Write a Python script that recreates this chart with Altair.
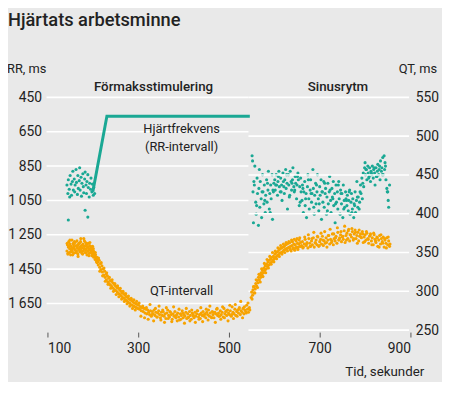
import altair as alt
import pandas as pd

FONT = "Roboto"
INK = "#222222"
TEAL = "#1aa894"
ORANGE = "#f7a300"
BG = "#e9e9e9"

X_TICKS = [100, 300, 500, 700, 900]
RR_TICKS = [450, 650, 850, 1050, 1250, 1450, 1650]
QT_TICKS = [250, 300, 350, 400, 450, 500, 550]

# Heart rate (RR interval), atrial pacing phase: scattered beats before pacing
teal_left_t = [143, 145, 146, 148, 149, 150, 152, 153, 155, 156, 157, 159, 160, 161, 163, 164,
               166, 167, 168, 170, 171, 172, 174, 175, 176, 178, 179, 180, 182, 183, 185, 186,
               187, 189, 190, 192, 193, 195, 196, 198, 199, 201, 202, 204, 146, 183, 189]
teal_left_rr = [960, 1010, 930, 985, 1030, 905, 955, 1020, 940, 880, 990, 925, 1000, 960, 870, 945,
                1015, 905, 980, 935, 860, 990, 915, 1025, 950, 895, 970, 1005, 925, 885, 960, 1010,
                940, 900, 975, 1030, 950, 985, 920, 1000, 955, 1020, 975, 1010, 1164, 1107, 1147]

# Paced RR interval (line)
teal_line_t = [200, 231, 546]
teal_line_rr = [1000, 560, 560]

# Sinus rhythm RR interval
teal_right_t = [551, 552, 553, 554, 556, 557, 559, 560, 562, 563, 565, 566, 568, 569, 571, 572,
                574, 575, 577, 578, 580, 581, 583, 584, 586, 587, 589, 590, 592, 593, 595, 596,
                598, 599,
                601, 602, 604, 605, 607, 608, 610, 611, 613, 614, 616, 617, 619, 620, 622, 623,
                625, 626, 628, 629, 631, 632, 634, 635, 637, 638, 640, 641, 643, 644, 646, 647,
                649, 650, 652, 653, 655, 656, 658, 659,
                661, 662, 664, 665, 667, 668, 670, 671, 673, 674, 676, 677, 679, 680, 682, 683,
                685, 686, 688, 689, 691, 692, 694, 695, 697, 698, 700, 701, 703, 704, 706, 707,
                709, 710, 712, 713, 715, 716, 718, 719, 721, 722, 724, 725, 727, 728, 730, 731,
                733, 734, 736, 737, 739, 740, 742, 743, 745, 746, 748, 749, 751, 752, 754, 755,
                757, 758,
                760, 761, 763, 764, 766, 767, 769, 770, 772, 773, 775, 776, 778, 779, 781, 782,
                784, 785, 787, 788, 790, 791, 793, 794, 796, 797, 799,
                800, 801, 803, 804, 806, 807, 809, 810, 812, 813, 815, 816, 818, 819, 821, 822,
                824, 825, 827, 828, 830, 831, 833, 834, 836, 837, 839, 840, 842, 843, 845, 846,
                848, 849, 851, 852, 854]
teal_right_rr = [790, 820, 1000, 1180, 960, 850, 1060, 1130, 920, 1010, 1195, 980, 1090, 940, 1040, 1150,
                 900, 1000, 1070, 960, 1120, 1020, 930, 1060, 990, 880, 1100, 1010, 960, 1040, 900, 1160,
                 1000, 950,
                 930, 990, 900, 960, 1020, 940, 880, 970, 1000, 920, 960, 1050, 890, 940, 1010, 930,
                 870, 980, 950, 1100, 900, 960, 1020, 880, 940, 990, 930, 860, 970, 1000, 910, 950,
                 1040, 960, 890, 930, 1080, 970, 920, 1000,
                 1050, 960, 1120, 1000, 940, 1080, 1010, 1150, 970, 900, 1040, 1100, 990, 930, 1060, 1010,
                 870, 980, 1130, 1020, 950, 1070, 1000, 900, 1040, 1110, 970, 1020, 930, 1160, 1000, 1060,
                 940, 1090, 1010, 980, 1130, 1030, 950, 1070, 1000, 910, 1050, 1120, 980, 1030, 940, 1080,
                 1010, 1180, 960, 1060, 1000, 1100, 940, 1040, 1130, 990, 1070, 1010, 1150, 960, 1050, 1090,
                 1000, 1040,
                 1080, 1020, 1110, 1050, 990, 1130, 1060, 1010, 1100, 1040, 1150, 1070, 1000, 1120, 1050, 940,
                 1090, 1030, 1100, 1060, 960, 1010, 920, 1040, 890, 970, 860,
                 830, 900, 870, 930, 850, 890, 910, 860, 940, 880, 900, 850, 920, 870, 890, 960,
                 860, 910, 880, 840, 900, 870, 930, 820, 880, 860, 800, 900, 790, 870, 850, 930,
                 980, 1000, 1050, 1090, 960]
teal_right_b_t = [555, 561, 567, 573, 579, 585, 591, 597, 603, 609, 615, 621, 627, 633, 639, 645,
                  651, 657, 663, 669, 675, 681, 687, 693, 699, 705, 711, 717, 723, 729, 735, 741,
                  747, 753, 759, 765, 771, 777, 783, 789, 795, 802, 808, 814, 820, 826, 832, 838,
                  844, 850]
teal_right_b_rr = [940, 1080, 870, 1000, 1050, 950, 1120, 990, 960, 910, 1000, 970, 900, 1030, 950, 990,
                   910, 1060, 980, 1040, 930, 1010, 1090, 960, 1070, 1000, 950, 1110, 990, 1040, 1070, 960,
                   1010, 1100, 1050, 1000, 1120, 1080, 1030, 1000, 950, 870, 920, 890, 860, 910, 850, 900,
                   830, 1000]

# QT interval, pacing phase
orange_left_t = [143, 144, 145, 146, 147, 148, 149, 150, 151, 152, 153, 154, 155, 156, 157, 158,
                 159, 160, 161, 162, 163, 164, 165, 166, 167, 168, 169, 170, 171, 172, 173, 174,
                 175, 176, 177, 178, 179, 180, 181, 182, 183, 184, 185, 186, 187, 188, 189, 190,
                 191, 192, 193, 194, 195, 196, 197, 198, 199, 200, 201, 202, 203, 204, 205, 206,
                 207, 208, 209, 210,
                 211, 212, 214, 215, 217, 218, 220, 221, 223, 224, 226, 227, 229, 230, 232, 233,
                 235, 236, 238, 239, 241, 242, 244, 245, 247, 248, 250, 251, 253, 254, 256, 257,
                 259, 260, 262, 263, 265, 266, 268, 269, 271, 272, 274, 275, 277, 278, 280, 281,
                 283, 284, 286, 287, 289, 290, 292, 293, 295, 296, 298, 299,
                 301, 303, 305, 307, 309, 311, 313, 315, 317, 319, 321, 323, 325, 327, 329, 331,
                 333, 335, 337, 339, 341, 343, 345, 347, 349, 351, 353, 355, 357, 359, 361, 363,
                 365, 367, 369, 371, 373, 375, 377, 379, 381, 383, 385, 387, 389, 391, 393, 395,
                 397, 399, 401, 403, 405, 407, 409, 411, 413, 415, 417, 419, 421, 423, 425, 427,
                 429, 431, 433, 435, 437, 439, 441, 443, 445, 447, 449, 451, 453, 455, 457, 459,
                 461, 463, 465, 467, 469, 471, 473, 475, 477, 479, 481, 483, 485, 487, 489, 491,
                 493, 495, 497, 499, 501, 503, 505, 507, 509, 511, 513, 515, 517, 519, 521, 523,
                 525, 527, 529, 531, 533, 535, 537, 539, 541, 543, 545]
orange_left_qt = [352, 360, 348, 357, 364, 350, 355, 361, 347, 358, 353, 366, 351, 356, 362, 349,
                  357, 354, 363, 350, 359, 352, 365, 356, 348, 360, 354, 362, 351, 357, 364, 353,
                  359, 349, 356, 361, 352, 368, 355, 358, 350, 363, 354, 360, 347, 357, 352, 362,
                  355, 349, 359, 353, 358, 351, 356, 346, 352, 348, 355, 344, 350, 346, 341, 347,
                  343, 338, 344, 340,
                  338, 334, 340, 331, 336, 328, 333, 325, 329, 321, 326, 318, 322, 315, 320, 312,
                  317, 310, 314, 308, 313, 306, 311, 304, 309, 302, 307, 301, 305, 299, 304, 297,
                  302, 296, 300, 294, 298, 292, 297, 291, 295, 289, 293, 288, 292, 286, 290, 285,
                  289, 283, 288, 282, 286, 281, 285, 280, 284, 279, 283, 278,
                  282, 277, 280, 275, 279, 274, 278, 272, 277, 271, 276, 273, 270, 275, 268, 274,
                  271, 276, 269, 273, 267, 272, 275, 270, 266, 273, 269, 274, 268, 271, 265, 272,
                  276, 269, 267, 273, 270, 264, 271, 268, 274, 266, 270, 272, 267, 263, 271, 269,
                  275, 266, 270, 268, 273, 265, 271, 267, 274, 269, 264, 272, 270, 266, 273, 268,
                  271, 275, 267, 270, 265, 272, 269, 274, 268, 271, 266, 273, 270, 276, 268, 272,
                  267, 274, 270, 266, 273, 271, 277, 269, 272, 268, 275, 270, 273, 267, 278, 271,
                  274, 269, 276, 272, 270, 275, 268, 280, 273, 271, 277, 269, 274, 276, 272, 279,
                  270, 275, 273, 278, 271, 276, 274, 282, 277, 273, 279]
orange_left_b_t = [143.5, 145.5, 147.5, 149.5, 151.5, 153.5, 155.5, 157.5, 159.5, 161.5, 163.5,
                   165.5, 167.5, 169.5, 171.5, 173.5, 175.5, 177.5, 179.5, 181.5, 183.5, 185.5,
                   187.5, 189.5, 191.5, 193.5, 195.5, 197.5, 199.5, 201.5, 203.5, 205.5, 207.5,
                   209.5,
                   212.5, 215.5, 218.5, 221.5, 224.5, 227.5, 230.5, 233.5, 236.5, 239.5, 242.5,
                   245.5, 248.5, 251.5, 254.5, 257.5, 260.5, 263.5, 266.5, 269.5, 272.5, 275.5,
                   278.5, 281.5, 284.5, 287.5, 290.5, 293.5, 296.5,
                   302, 306, 310, 314, 318, 322, 326, 330, 334, 338, 342, 346, 350, 354, 358, 362,
                   366, 370, 374, 378, 382, 386, 390, 394, 398, 402, 406, 410, 414, 418, 422, 426,
                   430, 434, 438, 442, 446, 450, 454, 458, 462, 466, 470, 474, 478, 482, 486, 490,
                   494, 498, 502, 506, 510, 514, 518, 522, 526, 530, 534, 538, 542, 546]
orange_left_b_qt = [362, 349, 358, 366, 351, 355, 347, 360, 364, 353, 350, 358, 345, 362, 356, 368,
                    352, 348, 359, 365, 354, 350, 361, 357, 346, 363, 355, 349, 358, 352, 345, 350,
                    341, 337,
                    343, 326, 337, 320, 330, 313, 324, 309, 318, 304, 315, 300, 310, 296, 307, 293,
                    304, 290, 300, 287, 297, 284, 294, 281, 291, 278, 289, 276, 287,
                    285, 268, 281, 266, 279, 264, 283, 270, 262, 278, 267, 281, 263, 276, 260, 279,
                    265, 274, 261, 280, 268, 262, 277, 264, 272, 259, 278, 266, 262, 276, 268, 260,
                    275, 264, 279, 261, 270, 277, 263, 281, 266, 273, 260, 278, 268, 264, 280, 266,
                    275, 262, 282, 270, 265, 283, 268, 277, 287, 266, 280, 272, 285, 276]

# QT interval, sinus rhythm phase
orange_right_t = [549, 550, 552, 553, 555, 556, 558, 559, 561, 562, 564, 565, 567, 568, 570, 571,
                  573, 574, 576, 577, 579, 580, 582, 583, 585, 586, 588, 589, 591, 592, 594, 595,
                  597, 598, 600, 601, 603, 604, 606, 607, 609, 610, 612, 613, 615, 616, 618, 619,
                  621, 622, 624, 625, 627, 628, 630, 631, 633, 634, 636, 637, 639, 640, 642, 643,
                  645, 646, 648, 649, 651, 652, 654, 655, 657, 658, 660,
                  662, 664, 666, 668, 670, 672, 674, 676, 678, 680, 682, 684, 686, 688, 690, 692,
                  694, 696, 698, 700, 702, 704, 706, 708, 710, 712, 714, 716, 718, 720, 722, 724,
                  726, 728, 730, 732, 734, 736, 738, 740, 742, 744, 746, 748, 750, 752, 754, 756,
                  758, 760, 762, 764, 766, 768, 770, 772, 774, 776, 778, 780, 782, 784, 786, 788,
                  790, 792, 794, 796, 798, 800, 802, 804, 806, 808, 810, 812, 814, 816, 818, 820,
                  822, 824, 826, 828, 830, 832, 834, 836, 838, 840, 842, 844, 846, 848, 850, 852, 854]
orange_right_qt = [292, 299, 295, 302, 298, 306, 303, 310, 307, 314, 311, 318, 315, 321, 318, 324,
                   321, 327, 324, 330, 327, 333, 329, 335, 332, 338, 334, 340, 336, 342, 338, 344,
                   340, 345, 342, 348, 344, 350, 346, 351, 347, 353, 349, 355, 350, 356, 351, 357,
                   353, 358, 354, 360, 355, 361, 356, 362, 357, 363, 358, 352, 359, 364, 356, 361,
                   353, 360, 365, 357, 362, 354, 361, 366, 358, 363, 359,
                   364, 357, 361, 367, 359, 363, 356, 368, 362, 358, 365, 360, 369, 357, 363, 366,
                   360, 370, 358, 364, 367, 361, 371, 359, 365, 362, 369, 357, 366, 372, 361, 367,
                   363, 374, 360, 368, 365, 371, 362, 376, 366, 369, 373, 364, 370, 367, 378, 363,
                   372, 375, 368, 380, 365, 373, 370, 377, 366, 374, 379, 368, 372, 376, 365, 371,
                   374, 369, 377, 363, 370, 373, 366, 375, 368, 362, 371, 374, 365, 369, 360, 373,
                   367, 363, 370, 358, 366, 372, 361, 368, 364, 370, 357, 366, 362, 369, 360, 365, 358]
orange_right_b_t = [551, 554, 557, 560, 563, 566, 569, 572, 575, 578, 581, 584, 587, 590, 593, 596,
                    599, 602, 605, 608, 611, 614, 617, 620, 623, 626, 629, 632, 635, 638, 641, 644,
                    647, 650, 653, 656, 659,
                    663, 667, 671, 675, 679, 683, 687, 691, 695, 699, 703, 707, 711, 715, 719, 723,
                    727, 731, 735, 739, 743, 747, 751, 755, 759, 763, 767, 771, 775, 779, 783, 787,
                    791, 795, 799, 803, 807, 811, 815, 819, 823, 827, 831, 835, 839, 843, 847, 851, 855]
orange_right_b_qt = [290, 306, 298, 315, 305, 322, 312, 329, 319, 336, 324, 341, 330, 345, 335, 350,
                     338, 352, 342, 356, 345, 359, 348, 361, 350, 363, 352, 364, 354, 366, 355, 367,
                     356, 368, 357, 369, 358,
                     356, 370, 361, 373, 358, 368, 376, 362, 371, 359, 375, 366, 377, 363, 372, 380,
                     365, 374, 369, 382, 367, 377, 371, 384, 366, 378, 373, 381, 368, 376, 362, 379,
                     370, 374, 364, 377, 367, 372, 360, 375, 365, 369, 357, 373, 362, 368, 356, 370, 361]


def rows(ts, vs):
    return [{"t": t, "v": v} for t, v in zip(ts, vs)]


teal_pts = pd.DataFrame(rows(teal_left_t, teal_left_rr) + rows(teal_right_t, teal_right_rr)
                        + rows(teal_right_b_t, teal_right_b_rr))
teal_line = pd.DataFrame({"t": teal_line_t, "v": teal_line_rr})
orange_pts = pd.DataFrame(rows(orange_left_t, orange_left_qt) + rows(orange_left_b_t, orange_left_b_qt)
                          + rows(orange_right_t, orange_right_qt) + rows(orange_right_b_t, orange_right_b_qt))
rr_grid = pd.DataFrame({"v": RR_TICKS})
qt_grid = pd.DataFrame({"v": QT_TICKS})

x_scale = alt.Scale(domain=[100, 900], nice=False, zero=False)
x_axis = alt.Axis(values=X_TICKS, title=None, grid=False, domain=False, ticks=True,
                  tickSize=5, tickWidth=1, tickColor="#555555", offset=2, labelPadding=5,
                  labelFont=FONT, labelFontSize=14, labelColor=INK)
rr_scale = alt.Scale(domain=[450, 1805], reverse=True, nice=False, zero=False)
rr_axis = alt.Axis(orient="left", values=RR_TICKS, title=None, grid=False, domain=False,
                   ticks=False, tickSize=0, labelPadding=6, labelFont=FONT, labelFontSize=14,
                   labelColor=INK, labelBaseline="middle",
                   labelExpr="replace(format(datum.value, ','), ',', '\u2009')")
qt_scale = alt.Scale(domain=[250, 550], nice=False, zero=False)
qt_axis = alt.Axis(orient="right", values=QT_TICKS, title=None, grid=False, domain=False,
                   ticks=False, tickSize=0, labelPadding=5, labelFont=FONT, labelFontSize=14,
                   labelColor=INK, labelBaseline="middle")

X = alt.X("t:Q", scale=x_scale, axis=x_axis)

grid_left = alt.Chart(rr_grid).mark_rule(color="white", strokeWidth=1.6).encode(
    x=alt.datum(98, scale=x_scale, axis=x_axis), x2=alt.datum(543),
    y=alt.Y("v:Q", scale=rr_scale, axis=rr_axis))
teal_points = alt.Chart(teal_pts).mark_circle(color=TEAL, size=10, opacity=1).encode(
    x=X, y=alt.Y("v:Q", scale=rr_scale, axis=rr_axis))
teal_path = alt.Chart(teal_line).mark_line(color=TEAL, strokeWidth=3).encode(
    x=X, y=alt.Y("v:Q", scale=rr_scale, axis=rr_axis))
left_group = alt.layer(grid_left, teal_points, teal_path)

grid_right = alt.Chart(qt_grid).mark_rule(color="white", strokeWidth=1.6).encode(
    x=alt.datum(543, scale=x_scale, axis=x_axis), x2=alt.datum(897),
    y=alt.Y("v:Q", scale=qt_scale, axis=qt_axis))
orange_points = alt.Chart(orange_pts).mark_circle(color=ORANGE, size=10, opacity=1).encode(
    x=X, y=alt.Y("v:Q", scale=qt_scale, axis=qt_axis))
right_group = alt.layer(grid_right, orange_points)


def txt(s, x, y, size=13, align="center", weight="normal"):
    return alt.Chart(alt.Data(values=[{}])).mark_text(
        text=s, align=align, baseline="alphabetic", fontSize=size, fontWeight=weight,
        font=FONT, color=INK).encode(x=alt.value(x), y=alt.value(y))


texts = [
    txt("Hjärtats arbetsminne", -40, -72, size=18.5, align="left", weight=500),
    txt("RR, ms", -41, -25, size=13, align="left"),
    txt("QT, ms", 395, -25, size=13, align="right"),
    txt("Förmaksstimulering", 107.5, -6, size=13.5, weight=500),
    txt("Sinusrytm", 294.5, -6, size=13.5, weight=500),
    txt("Hjärtfrekvens", 136, 36, size=13),
    txt("(RR-intervall)", 136, 54, size=13),
    txt("QT-intervall", 136, 200, size=13),
    txt("Tid, sekunder", 382, 283, size=13.5, align="right"),
]

chart = alt.layer(left_group, right_group, *texts).resolve_scale(y="independent").properties(
    width=368, height=236,
    autosize=alt.AutoSizeParams(type="none"),
    padding={"left": 40, "top": 88, "right": 32, "bottom": 50},
    background=BG,
).configure_view(stroke=None)

chart.save("out.html", embed_options={"renderer": "svg", "actions": False})
